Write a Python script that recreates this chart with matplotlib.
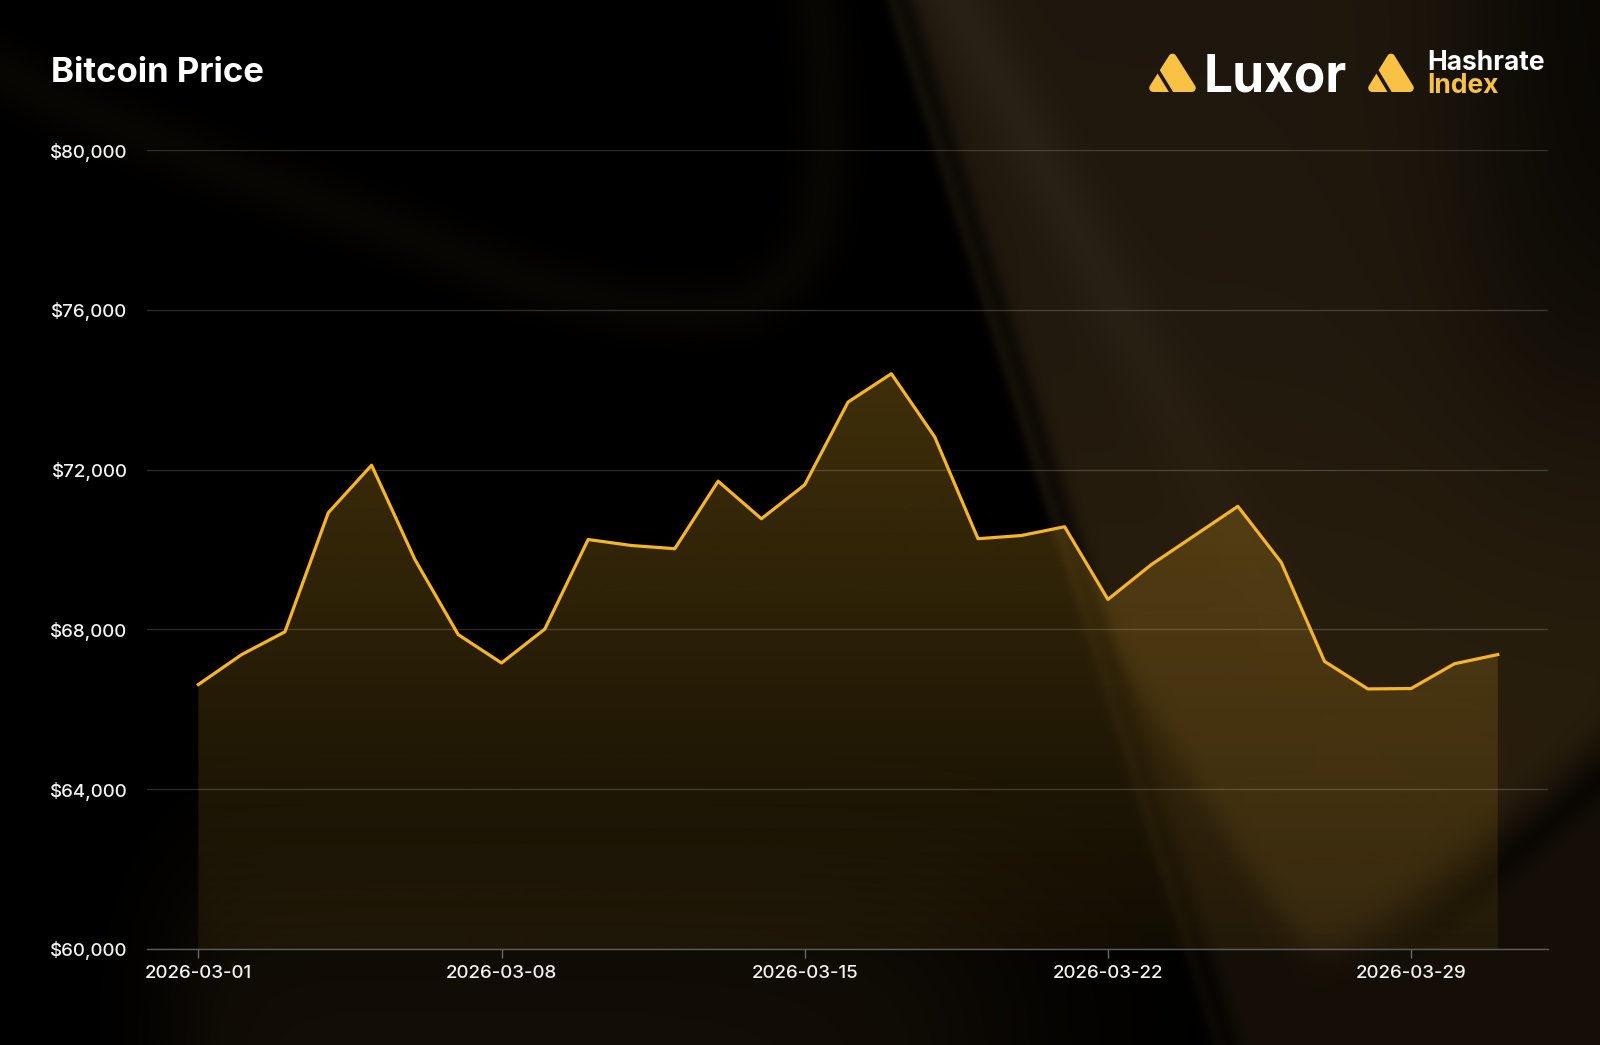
import numpy as np
import pandas as pd
import matplotlib
matplotlib.use('Agg')
import matplotlib.pyplot as plt
import matplotlib.dates as mdates
from matplotlib.patches import Polygon
from matplotlib.ticker import FuncFormatter

plt.rcParams['font.family'] = ['Inter', 'DejaVu Sans']

# data
dates = pd.date_range('2026-03-01', '2026-03-31', freq='D')
prices = [66620, 67370, 67940, 70920, 72110, 69750, 67870, 67160, 68010, 70250,
          70100, 70020, 71710, 70770, 71620, 73690, 74400, 72820, 70270, 70350,
          70570, 68750, 69620, 70350, 71080, 69680, 67200, 66510, 66520, 67140,
          67370]
y_ticks = [60000, 64000, 68000, 72000, 76000, 80000]
x_ticks = ['2026-03-01', '2026-03-08', '2026-03-15', '2026-03-22', '2026-03-29']

W, H = 1600, 1045
gold_line = '#F6B526'
gold_logo = '#F9C244'


def soft(z):
    return 1.0 / (1.0 + np.exp(-np.clip(z, -50, 50)))


# ---- decorative background (pixel grid) ----
yy, xx = np.mgrid[0:H, 0:W].astype(float)

# diagonal split, positive to the right
s = ((xx - 888) * 1045 - yy * 327) / np.hypot(1045, 327)
right = soft(s / 3)

# U shaped lighter area in the lower right
dx = xx - 1322
k = np.where(dx < 0, 1.7, 0.9)
c = np.where(dx < 0, 60.0, 40.0)
yc = 947 + c - np.sqrt(c ** 2 + (k * dx) ** 2)
iu = soft((yc - yy) / 12)

top = soft((480 - yy) / 130)[..., None]
lite = np.array([0.165, 0.122, 0.052]) * (1 - top) + np.array([0.12, 0.093, 0.052]) * top
dark = np.array([0.08, 0.058, 0.026])
col_r = dark + (lite - dark) * iu[..., None]

# grey sheen near the edge, mostly at the top
sh_c = 65 + 0.2 * yy
sheen = np.exp(-((s - sh_c) / 35) ** 2) * soft((420 - yy) / 110)
col_r = col_r + sheen[..., None] * np.array([0.035, 0.035, 0.032])
# dark strip hugging the edge
strip = np.exp(-((s - 14) / 12) ** 2)
col_r = col_r * (1 - 0.55 * strip[..., None])
# dark top right corner
dtr = soft((xx - 1480) / 45) * soft((380 - yy) / 90)
col_r = col_r * (1 - 0.7 * dtr[..., None])
# dark swoosh just outside the U on the right
v = yy - yc
sw = np.exp(-((v - 45) / 22) ** 2) * soft((dx - 120) / 30)
col_r = col_r * (1 - 0.5 * sw[..., None])

# left side: faint swoosh band at the top, warm glow at the bottom
col_l = np.zeros((H, W, 3))
curve = [(0, 70), (57, 100), (230, 170), (402, 233), (520, 280), (631, 307),
         (700, 311), (746, 305), (790, 275), (815, 233), (827, 150), (823, 60),
         (815, 0)]
dist = np.full((H, W), 1e9)
for (ax0, ay0), (ax1, ay1) in zip(curve[:-1], curve[1:]):
    vx, vy = ax1 - ax0, ay1 - ay0
    t = np.clip(((xx - ax0) * vx + (yy - ay0) * vy) / (vx * vx + vy * vy), 0, 1)
    dd = np.hypot(xx - ax0 - t * vx, yy - ay0 - t * vy)
    dist = np.minimum(dist, dd)
col_l += np.exp(-(dist / 30) ** 2)[..., None] * np.array([0.032, 0.025, 0.012])
glow = soft((yy - 885) / 45) * soft((xx - 175) / 30) * soft((1010 - xx) / 70)
col_l += glow[..., None] * np.array([0.075, 0.055, 0.025])

img = col_l * (1 - right[..., None]) + col_r * right[..., None]
img = np.clip(img, 0, 1)

fig = plt.figure(figsize=(16, 10.45), dpi=100)
bg = fig.add_axes([0, 0, 1, 1])
bg.imshow(img, extent=[0, W, H, 0], aspect='auto', zorder=0)
bg.set_xlim(0, W)
bg.set_ylim(H, 0)
bg.axis('off')

# title
bg.text(51, 82, 'Bitcoin Price', color='white', fontsize=25, fontweight='bold',
        va='baseline', ha='left')


def logo_icon(x0, y0, x1, y1):
    w = x1 - x0
    h = y1 - y0
    r = 4
    pts = [(x0 + w / 2, y0 + r * 1.4), (x0 + r * 1.3, y1 - r), (x1 - r * 1.3, y1 - r)]
    bg.add_patch(Polygon(pts, closed=True, fc=gold_logo, ec=gold_logo,
                         lw=2 * r * 0.72, joinstyle='round', zorder=3))
    t = 0.47
    p = np.array([x0 + t * w / 2, y1 - t * h])
    q = np.array([x0 + t * w, y1])
    d = q - p
    p2 = p - 0.3 * d
    q2 = q + 0.3 * d
    mid = ((p + q) / 2).astype(int)
    bc = img[mid[1], mid[0]]
    bg.plot([p2[0], q2[0]], [p2[1], q2[1]], color=bc, lw=2.6,
            solid_capstyle='butt', zorder=4)


logo_icon(1148, 52, 1197, 92)
bg.text(1204, 92, 'Luxor', color='white', fontsize=37, fontweight='bold',
        va='baseline', ha='left')
logo_icon(1367, 52, 1415, 92)
bg.text(1427, 70, 'Hashrate', color='white', fontsize=19, fontweight='bold',
        va='baseline', ha='left')
bg.text(1427, 93, 'Index', color=gold_logo, fontsize=19, fontweight='bold',
        va='baseline', ha='left')

# ---- chart ----
ax = fig.add_axes([147 / W, 1 - 949 / H, (1548 - 147) / W, (949 - 150) / H])
ax.set_facecolor('none')
xnum = mdates.date2num(dates)

poly = ax.fill_between(xnum, prices, 60000, color='none', lw=0)
grad = np.zeros((256, 1, 4))
grad[..., :3] = matplotlib.colors.to_rgb(gold_line)
grad[:, 0, 3] = np.linspace(0.26, 0.07, 256)
im = ax.imshow(grad, aspect='auto', origin='upper', zorder=1,
               extent=[xnum[0], xnum[-1], 60000, max(prices)])
im.set_clip_path(poly.get_paths()[0], ax.transData)

ax.plot(xnum, prices, color=gold_line, lw=2.3, zorder=3)

ax.set_xlim(xnum[0] - 1.185, xnum[0] + 31.16)
ax.set_ylim(60000, 80000)
ax.set_yticks(y_ticks)
ax.yaxis.set_major_formatter(FuncFormatter(lambda val, pos: f'${val:,.0f}'))
ax.set_xticks(mdates.date2num(pd.to_datetime(x_ticks)))
ax.set_xticklabels(x_ticks)

ax.grid(axis='y', color='white', alpha=0.17, lw=1)
ax.set_axisbelow(True)
for sp in ['top', 'right', 'left']:
    ax.spines[sp].set_visible(False)
ax.spines['bottom'].set_color('#5c5c5c')
ax.spines['bottom'].set_linewidth(1)
ax.tick_params(axis='y', length=0, pad=14, labelsize=13.5, labelcolor='#f2f2f2')
ax.tick_params(axis='x', length=6.5, width=1, color='#6a6a6a', pad=5,
               labelsize=13.5, labelcolor='#f2f2f2')
for lab in ax.get_xticklabels() + ax.get_yticklabels():
    lab.set_fontweight('medium')

fig.savefig('out.png', dpi=100, facecolor='black')
